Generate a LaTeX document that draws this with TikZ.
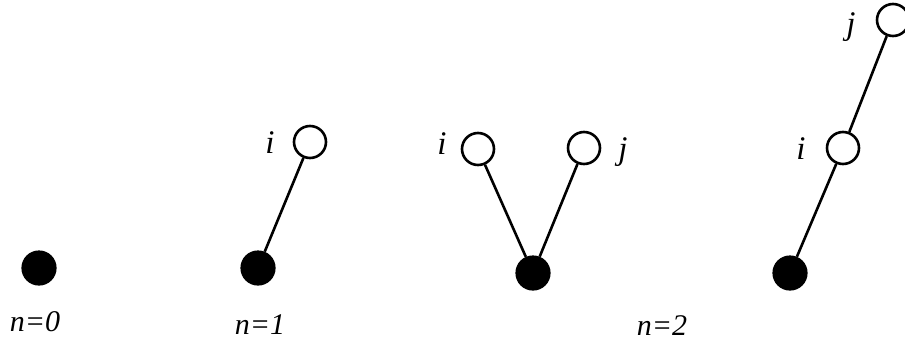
\documentclass[tikz,border=0pt]{standalone}
\usepackage{fontspec}
\setmainfont{Liberation Serif}
\begin{document}
\begin{tikzpicture}[x=1pt,y=-1pt,
  root/.style={circle,fill=black,draw=black,line width=1.2pt,minimum size=34pt,inner sep=0pt},
  leaf/.style={circle,fill=white,draw=black,line width=2.6pt,minimum size=32pt,inner sep=0pt},
  edge/.style={line width=2.6pt},
  lbl/.style={inner sep=0pt,font=\fontsize{33}{36}\selectfont\itshape},
  ncaption/.style={inner sep=0pt,font=\fontsize{30}{33}\selectfont\itshape}]
\useasboundingbox (0,0) rectangle (905,343);
% n = 0
\node[root] (r0) at (39,268) {};
\node[ncaption] (t0) at (35,322) {n=0};
% n = 1
\node[root] (r1) at (258,268) {};
\node[leaf] (a1) at (310,142) {};
\node[lbl] (i1) at (270,143) {i};
\draw[edge] (r1) -- (a1);
\node[ncaption] (t1) at (260,325) {n=1};
% n = 2
\node[root] (r2) at (533,273) {};
\node[leaf] (a2) at (478,149) {};
\node[leaf] (b2) at (584,148) {};
\node[lbl] (i2) at (442,144) {i};
\node[lbl] (j2) at (623,152) {j};
\draw[edge] (r2) -- (a2);
\draw[edge] (r2) -- (b2);
\node[ncaption] (t2) at (662,326) {n=2};
% n = 3
\node[root] (r3) at (790,273) {};
\node[leaf] (a3) at (843,148) {};
\node[leaf] (b3) at (893,20) {};
\node[lbl] (i3) at (801,149) {i};
\node[lbl] (j3) at (851,27) {j};
\draw[edge] (r3) -- (a3);
\draw[edge] (a3) -- (b3);
\end{tikzpicture}
\end{document}
